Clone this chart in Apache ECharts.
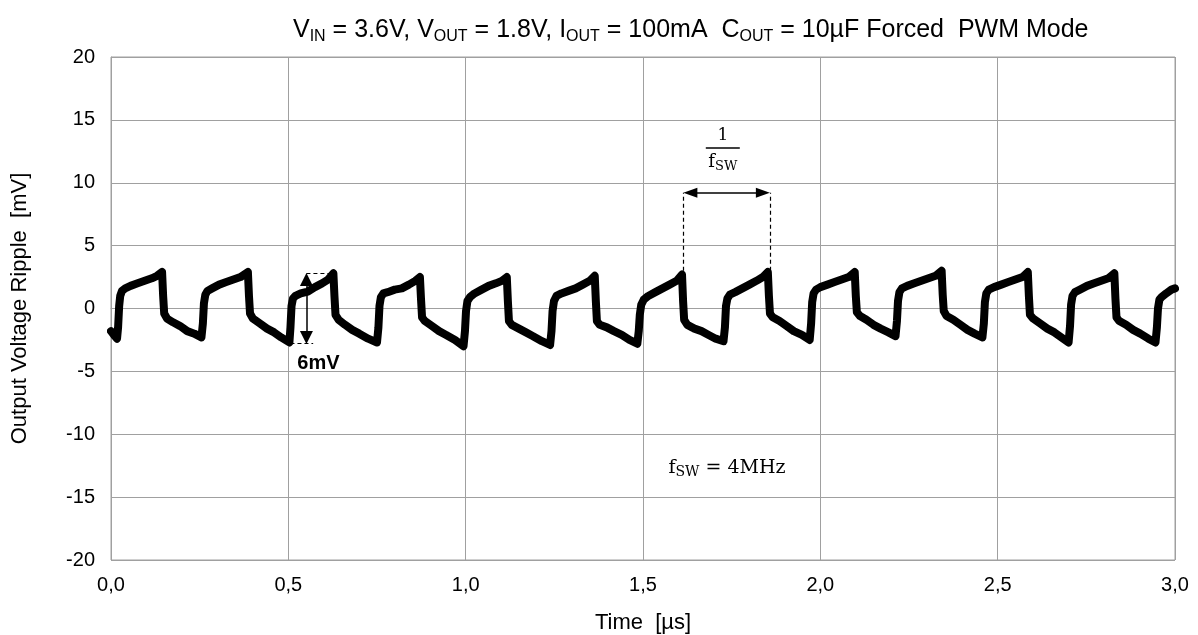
<!DOCTYPE html>
<html>
<head>
    <meta charset="utf-8">
    <title>Output Voltage Ripple</title>
    <script src="https://cdn.jsdelivr.net/npm/echarts@6/dist/echarts.min.js"></script>
</head>
<body style="margin:0">

<div id="main" style="width:1198px;height:635px;"></div>

<script type="text/javascript">

    // time axis in µs, ripple in mV
    var timeUs = [
        0.000, 0.008, 0.017, 0.020, 0.023, 0.026, 0.031, 0.040, 0.055, 0.075, 0.095, 0.115, 0.130, 0.144,
        0.147, 0.150, 0.158, 0.175, 0.195, 0.215, 0.235, 0.255,
        0.259, 0.262, 0.266, 0.272, 0.285, 0.305, 0.325, 0.345, 0.365, 0.386,
        0.389, 0.392, 0.400, 0.420, 0.440, 0.460, 0.480, 0.503,
        0.506, 0.509, 0.513, 0.520, 0.535, 0.555, 0.575, 0.595, 0.612, 0.627,
        0.630, 0.633, 0.642, 0.660, 0.680, 0.700, 0.725, 0.750,
        0.754, 0.757, 0.761, 0.768, 0.780, 0.800, 0.820, 0.840, 0.858, 0.871,
        0.874, 0.877, 0.885, 0.905, 0.925, 0.945, 0.970, 0.994,
        0.998, 1.001, 1.005, 1.012, 1.025, 1.045, 1.065, 1.085, 1.102, 1.116,
        1.119, 1.122, 1.130, 1.150, 1.170, 1.190, 1.215, 1.238,
        1.242, 1.245, 1.249, 1.256, 1.270, 1.290, 1.310, 1.330, 1.350, 1.364,
        1.367, 1.370, 1.378, 1.398, 1.418, 1.440, 1.462, 1.484,
        1.488, 1.491, 1.495, 1.502, 1.515, 1.535, 1.555, 1.575, 1.595, 1.610,
        1.613, 1.616, 1.625, 1.645, 1.665, 1.685, 1.705, 1.727,
        1.731, 1.734, 1.738, 1.745, 1.760, 1.780, 1.800, 1.820, 1.838, 1.852,
        1.855, 1.858, 1.866, 1.885, 1.905, 1.925, 1.948, 1.970,
        1.974, 1.977, 1.981, 1.988, 2.000, 2.020, 2.040, 2.060, 2.080, 2.097,
        2.100, 2.103, 2.112, 2.130, 2.150, 2.170, 2.192, 2.212,
        2.216, 2.219, 2.223, 2.230, 2.245, 2.265, 2.285, 2.305, 2.325, 2.342,
        2.345, 2.348, 2.356, 2.375, 2.395, 2.415, 2.435, 2.457,
        2.461, 2.464, 2.468, 2.475, 2.490, 2.510, 2.530, 2.550, 2.570, 2.585,
        2.588, 2.591, 2.600, 2.620, 2.640, 2.660, 2.680, 2.700,
        2.704, 2.707, 2.711, 2.718, 2.732, 2.752, 2.772, 2.792, 2.812, 2.829,
        2.832, 2.835, 2.843, 2.862, 2.882, 2.902, 2.925, 2.945,
        2.949, 2.952, 2.956, 2.962, 2.975, 2.990, 3.000
    ];
    var rippleMv = [
        -1.8, -2.1, -2.4, -1.5, 0.2, 1.0, 1.4, 1.6, 1.8, 2.0, 2.2, 2.4, 2.6, 2.9,
        1.0, -0.4, -0.8, -1.1, -1.4, -1.8, -2.0, -2.3,
        -1.2, 0.4, 1.1, 1.4, 1.6, 1.9, 2.1, 2.3, 2.5, 2.9,
        1.0, -0.4, -0.8, -1.2, -1.6, -1.9, -2.3, -2.7,
        -1.5, 0.2, 0.8, 1.0, 1.2, 1.35, 1.7, 2.0, 2.3, 2.8,
        1.0, -0.5, -0.9, -1.3, -1.7, -2.0, -2.4, -2.7,
        -1.5, 0.2, 0.9, 1.2, 1.3, 1.5, 1.6, 1.9, 2.2, 2.5,
        0.8, -0.7, -1.0, -1.4, -1.8, -2.1, -2.5, -3.0,
        -1.8, -0.2, 0.6, 0.9, 1.2, 1.5, 1.8, 2.0, 2.2, 2.5,
        0.6, -1.0, -1.3, -1.6, -1.9, -2.2, -2.6, -2.9,
        -1.8, -0.2, 0.6, 1.0, 1.2, 1.4, 1.6, 1.9, 2.2, 2.6,
        0.6, -1.0, -1.3, -1.5, -1.8, -2.1, -2.5, -2.8,
        -1.8, -0.5, 0.3, 0.7, 1.0, 1.3, 1.6, 1.9, 2.2, 2.7,
        0.6, -0.9, -1.3, -1.6, -1.8, -2.1, -2.4, -2.6,
        -1.5, 0.2, 0.8, 1.1, 1.3, 1.6, 1.9, 2.2, 2.5, 2.9,
        1.0, -0.4, -0.7, -1.0, -1.4, -1.8, -2.1, -2.5,
        -1.2, 0.5, 1.2, 1.5, 1.7, 1.9, 2.1, 2.3, 2.5, 2.9,
        1.0, -0.3, -0.6, -0.9, -1.3, -1.6, -1.9, -2.2,
        -1.0, 0.6, 1.3, 1.6, 1.8, 2.0, 2.2, 2.4, 2.6, 3.0,
        1.1, -0.2, -0.6, -0.9, -1.3, -1.7, -2.0, -2.3,
        -1.2, 0.5, 1.2, 1.5, 1.7, 1.9, 2.1, 2.3, 2.5, 2.9,
        1.0, -0.5, -0.8, -1.2, -1.6, -1.9, -2.3, -2.7,
        -1.4, 0.3, 1.0, 1.3, 1.5, 1.8, 2.0, 2.2, 2.4, 2.8,
        0.8, -0.7, -1.0, -1.3, -1.7, -2.0, -2.4, -2.7,
        -1.5, 0.0, 0.7, 0.9, 1.2, 1.5, 1.6
    ];

    // annotation positions (data units)
    var ppMarkT = 0.551;           // 6mV arrow
    var ppTop = 2.8, ppBottom = -2.8;
    var periodT = [1.6135, 1.858]; // 1/fsw markers
    var periodArrowV = 9.2;

    var pts = [];
    for (var i = 0; i < timeUs.length; i++) {
        pts.push([timeUs[i], rippleMv[i]]);
    }

    var myChart = echarts.init(document.getElementById('main'));

    var font = 'Liberation Sans, Arial, sans-serif';
    var serif = 'DejaVu Serif, Liberation Serif, serif';
    var dash = {color: '#000', type: [4, 3], width: 1.2};
    var solid = {color: '#000', type: 'solid', width: 1.5};

    // arrow symbols are centred on the end point, pull them in so the tip lands on it
    var tipT = 0.02, tipV = 0.5;

    var option = {
        backgroundColor: '#fff',
        animation: false,
        title: {
            left: 288,
            top: 10,
            text: '{n|V}{s|IN}{n| = 3.6V, V}{s|OUT}{n| = 1.8V, I}{s|OUT}{n| = 100mA  C}{s|OUT}{n| = 10µF Forced  PWM Mode}',
            textStyle: {
                fontWeight: 'normal',
                rich: {
                    n: {fontFamily: font, fontSize: 25, color: '#000', lineHeight: 30},
                    s: {fontFamily: font, fontSize: 16, color: '#000', lineHeight: 16, verticalAlign: 'bottom'}
                }
            }
        },
        grid: {
            left: 111,
            right: 23,
            top: 57,
            bottom: 75,
            outerBoundsMode: 'none',
            show: true,
            borderColor: '#a0a0a0',
            borderWidth: 1
        },
        xAxis: {
            type: 'value',
            min: 0,
            max: 3,
            interval: 0.5,
            name: 'Time  [µs]',
            nameLocation: 'middle',
            nameGap: 52,
            nameTextStyle: {fontFamily: font, fontSize: 22, color: '#000'},
            axisLine: {show: true, lineStyle: {color: '#a0a0a0'}},
            axisTick: {show: false},
            splitLine: {show: true, lineStyle: {color: '#a0a0a0', width: 1}},
            axisLabel: {
                margin: 15,
                fontFamily: font,
                fontSize: 20,
                color: '#000',
                formatter: function (v) { return v.toFixed(1).replace('.', ','); }
            }
        },
        yAxis: {
            type: 'value',
            min: -20,
            max: 20,
            interval: 5,
            name: 'Output Voltage Ripple  [mV]',
            nameLocation: 'middle',
            nameGap: 80,
            nameTextStyle: {fontFamily: font, fontSize: 22, color: '#000'},
            axisLine: {show: true, lineStyle: {color: '#a0a0a0'}},
            axisTick: {show: false},
            splitLine: {show: true, lineStyle: {color: '#a0a0a0', width: 1}},
            axisLabel: {
                margin: 16,
                fontFamily: font,
                fontSize: 20,
                color: '#000'
            }
        },
        series: [
            {
                name: 'ripple',
                type: 'line',
                data: pts,
                z: 2,
                showSymbol: false,
                symbol: 'none',
                lineStyle: {color: '#000', width: 8, join: 'round', cap: 'round'},
                silent: true
            },
            {
                // annotations drawn over the trace
                name: 'notes',
                type: 'line',
                data: [],
                z: 5,
                silent: true,
                markLine: {
                    silent: true,
                    animation: false,
                    label: {show: false},
                    emphasis: {disabled: true},
                    data: [
                        // 6mV peak-to-peak marker
                        [{coord: [ppMarkT, ppTop - tipV], symbol: 'triangle', symbolSize: [13, 13], lineStyle: solid},
                         {coord: [ppMarkT, ppBottom + tipV], symbol: 'triangle', symbolSize: [13, 13]}],
                        [{coord: [ppMarkT, ppTop], symbol: 'none', lineStyle: dash},
                         {coord: [0.637, ppTop], symbol: 'none'}],
                        [{coord: [0.506, ppBottom], symbol: 'none', lineStyle: dash},
                         {coord: [0.570, ppBottom], symbol: 'none'}],
                        // switching period marker
                        [{coord: [periodT[0], 3.0], symbol: 'none', lineStyle: dash},
                         {coord: [periodT[0], periodArrowV], symbol: 'none'}],
                        [{coord: [periodT[1], 3.0], symbol: 'none', lineStyle: dash},
                         {coord: [periodT[1], periodArrowV], symbol: 'none'}],
                        [{coord: [periodT[0] + tipT, periodArrowV], symbol: 'triangle', symbolSize: [10, 14], lineStyle: solid},
                         {coord: [periodT[1] - tipT, periodArrowV], symbol: 'triangle', symbolSize: [10, 14]}]
                    ]
                },
                markPoint: {
                    silent: true,
                    animation: false,
                    symbol: 'circle',
                    symbolSize: 0,
                    data: [
                        {
                            coord: [0.585, -4.4],
                            label: {
                                show: true, position: 'inside',
                                formatter: '6mV',
                                fontFamily: font, fontSize: 20, fontWeight: 'bold', color: '#000'
                            }
                        },
                        {
                            coord: [1.725, 12.6],
                            label: {
                                show: true, position: 'inside',
                                formatter: '{one|1}\n{bar|}\n{f|f}{s|SW}',
                                rich: {
                                    one: {fontFamily: serif, fontSize: 17, color: '#000', lineHeight: 18, align: 'center'},
                                    bar: {width: 34, height: 1.5, backgroundColor: '#000', lineHeight: 6, align: 'center'},
                                    f: {fontFamily: serif, fontSize: 18, color: '#000', lineHeight: 22},
                                    s: {fontFamily: serif, fontSize: 13, color: '#000', lineHeight: 14, verticalAlign: 'bottom'}
                                }
                            }
                        },
                        {
                            coord: [1.737, -12.7],
                            label: {
                                show: true, position: 'inside',
                                formatter: '{f|f}{s|SW}{f| = 4MHz}',
                                rich: {
                                    f: {fontFamily: serif, fontSize: 19, color: '#000', lineHeight: 22},
                                    s: {fontFamily: serif, fontSize: 14, color: '#000', lineHeight: 14, verticalAlign: 'bottom'}
                                }
                            }
                        }
                    ]
                }
            }
        ]
    };

    myChart.setOption(option);

</script>
</body>
</html>
